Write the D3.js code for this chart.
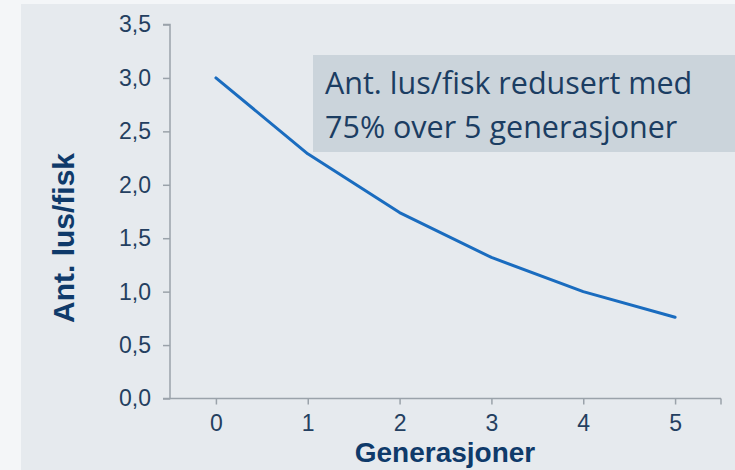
<!DOCTYPE html>
<html>
<head>
<meta charset="utf-8">
<script src="https://cdn.jsdelivr.net/npm/d3@7"></script>
<style>
  html, body { margin: 0; padding: 0; background: #f4f6f8; }
  svg { display: block; }
</style>
</head>
<body>
<div id="chart"></div>
<script>
var generations = [0, 1, 2, 3, 4, 5],
    lice = [3.0, 2.29, 1.74, 1.32, 1.0, 0.76],
    yTicks = [0, 0.5, 1, 1.5, 2, 2.5, 3, 3.5],
    noteLines = ['Ant. lus/fisk redusert med', '75% over 5 generasjoner'];

var W = 735, H = 470,
    padL = 170, padR = 721, padT = 24.5, padB = 398.5;

var svg = d3.select('#chart').append('svg')
    .attr('width', W)
    .attr('height', H);

// backdrop panel
svg.append('rect')
    .attr('x', 21).attr('y', 4)
    .attr('width', W - 21).attr('height', H - 4)
    .attr('fill', '#e6eaee');

var x = d3.scaleLinear().domain([-0.5, 5.5]).range([padL, padR]),
    y = d3.scaleLinear().domain([0, 3.5]).range([padB, padT]);

var fmt = function(d) { return d3.format('.1f')(d).replace('.', ','); };

// y axis
var yAxis = svg.append('g')
    .attr('transform', 'translate(' + padL + ',0)')
    .call(d3.axisLeft(y).tickValues(yTicks).tickSize(7).tickPadding(12).tickFormat(fmt));

// x axis
var xAxis = svg.append('g')
    .attr('transform', 'translate(0,' + padB + ')')
    .call(d3.axisBottom(x).tickValues(generations).tickSize(6).tickPadding(10).tickFormat(d3.format('d')));

xAxis.append('line')
    .attr('x1', padR).attr('x2', padR)
    .attr('y1', 0).attr('y2', 6);

[yAxis, xAxis].forEach(function(g) {
    g.selectAll('path').attr('stroke', '#9aa2aa').attr('stroke-width', 1.5);
    g.selectAll('line').attr('stroke', '#9aa2aa').attr('stroke-width', 1.5);
    g.selectAll('text')
        .attr('fill', '#243f60')
        .style('font-family', 'Liberation Sans, Arial, sans-serif')
        .style('font-size', '23px');
});
yAxis.select('.domain').attr('d', 'M-7,' + padT + 'H0V' + padB + 'H-7');
xAxis.select('.domain').attr('d', 'M' + padL + ',0H' + padR);

// line, straight segments like the original
var line = d3.line()
    .x(function(d, i) { return x(generations[i]); })
    .y(function(d) { return y(d); });

svg.append('path')
    .attr('d', line(lice))
    .attr('fill', 'none')
    .attr('stroke', '#1a6cbf')
    .attr('stroke-width', 3)
    .attr('stroke-linejoin', 'round')
    .attr('stroke-linecap', 'round');

// axis titles
svg.append('text')
    .attr('x', 445).attr('y', 462)
    .attr('text-anchor', 'middle')
    .attr('fill', '#0f3a6a')
    .style('font-family', 'Liberation Sans, Arial, sans-serif')
    .style('font-weight', 'bold')
    .style('font-size', '28px')
    .text('Generasjoner');

svg.append('text')
    .attr('transform', 'translate(74,238) rotate(-90)')
    .attr('text-anchor', 'middle')
    .attr('fill', '#0f3a6a')
    .style('font-family', 'Liberation Sans, Arial, sans-serif')
    .style('font-weight', 'bold')
    .style('font-size', '30px')
    .text('Ant. lus/fisk');

// annotation box
svg.append('rect')
    .attr('x', 313).attr('y', 55)
    .attr('width', W - 313).attr('height', 97)
    .attr('fill', '#cbd4db');

svg.selectAll('.note')
    .data(noteLines)
    .enter().append('text')
    .attr('class', 'note')
    .attr('x', 325)
    .attr('y', function(d, i) { return 94 + i * 44; })
    .attr('fill', '#1b3d62')
    .style('font-family', 'Open Sans, sans-serif')
    .style('font-size', '30.5px')
    .text(function(d) { return d; });
</script>
</body>
</html>
